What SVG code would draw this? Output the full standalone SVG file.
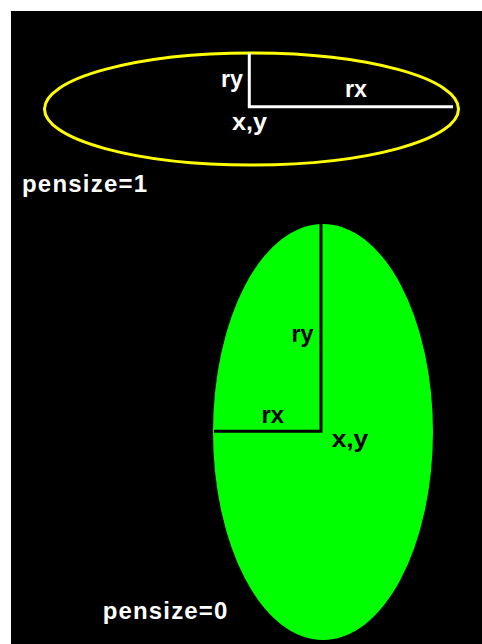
<svg xmlns="http://www.w3.org/2000/svg" width="482" height="644" viewBox="0 0 482 644">
  <style>
    .lbl { font-family: "Liberation Sans", Arial, sans-serif; font-weight: bold; font-size: 24px; }
    .w { fill: #ffffff; }
    .k { fill: #000000; }
  </style>
  <rect x="0" y="0" width="482" height="644" fill="#ffffff"/>
  <rect x="11" y="11" width="471" height="633" fill="#000000"/>

  <g id="ellipse-pensize1">
    <ellipse cx="251.5" cy="109" rx="207" ry="56" fill="none" stroke="#ffff00" stroke-width="3"/>
  </g>
  <g id="ellipse-pensize0">
    <ellipse cx="323" cy="432" rx="110" ry="208" fill="#00ff00"/>
  </g>

  <g id="connectors">
    <polyline points="249.3,53 249.3,106.7 453,106.7" fill="none" stroke="#ffffff" stroke-width="3"/>
    <polyline points="321,224 321,431.3 214,431.3" fill="none" stroke="#000000" stroke-width="3"/>
  </g>

  <g id="labels-top">
    <text class="lbl w" x="221" y="87" textLength="22" lengthAdjust="spacingAndGlyphs">ry</text>
    <text class="lbl w" x="345" y="97" textLength="22" lengthAdjust="spacingAndGlyphs">rx</text>
    <text class="lbl w" x="232" y="130" textLength="35" lengthAdjust="spacingAndGlyphs">x,y</text>
    <text class="lbl w" x="22" y="192" textLength="125" lengthAdjust="spacing">pensize=1</text>
  </g>
  <g id="labels-bottom">
    <text class="lbl k" x="291.5" y="341.7" textLength="22" lengthAdjust="spacingAndGlyphs">ry</text>
    <text class="lbl k" x="261.5" y="423.3" textLength="22.5" lengthAdjust="spacingAndGlyphs">rx</text>
    <text class="lbl k" x="331.7" y="447.3" textLength="36.5" lengthAdjust="spacingAndGlyphs">x,y</text>
    <text class="lbl w" x="102.7" y="619" textLength="124.6" lengthAdjust="spacing">pensize=0</text>
  </g>
</svg>
